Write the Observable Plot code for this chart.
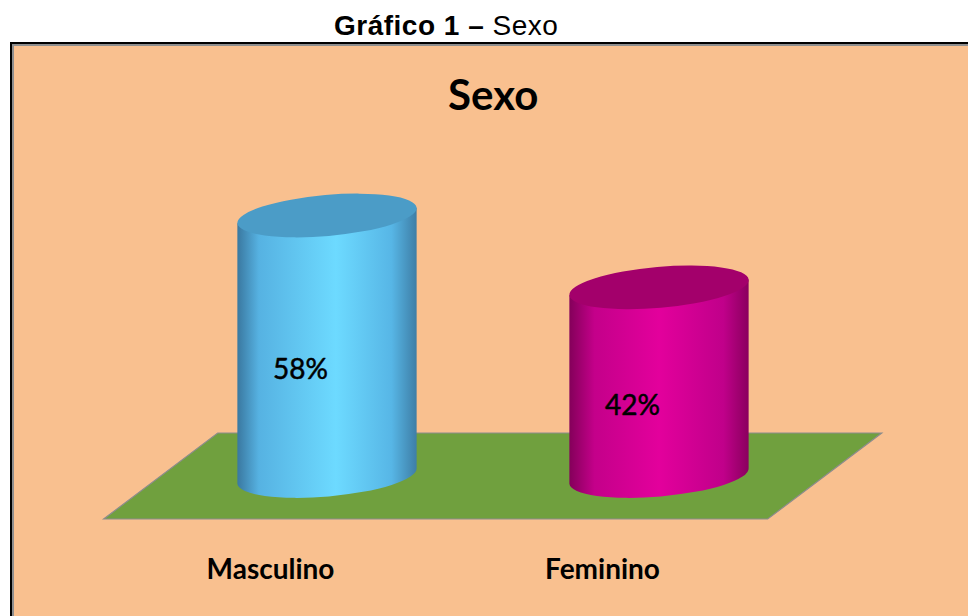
<!DOCTYPE html>
<html>
<head>
<meta charset="utf-8">
<script src="https://cdn.jsdelivr.net/npm/d3@7"></script>
<script src="https://cdn.jsdelivr.net/npm/@observablehq/plot@0.6"></script>
<style>
  html, body { margin: 0; padding: 0; background: #ffffff; }
  body { width: 968px; height: 616px; overflow: hidden; position: relative; }
  #caption { position: absolute; left: 334px; top: 12px; font-family: "Liberation Sans", Arial, sans-serif; font-size: 28px; line-height: 28px; letter-spacing: 0.5px; white-space: nowrap; color: #000; }
  #box { position: absolute; left: 10px; top: 42px; width: 1000px; height: 620px; border-top: 2px solid #000; border-left: 2px solid #000; }
  #inner { width: 100%; height: 100%; border-top: 2px solid #8e8e8e; border-left: 2px solid #8e8e8e; background: #F9C08F; }
  #inner svg { display: block; }
</style>
</head>
<body>
<div id="caption"><b>Gráfico 1 –</b> Sexo</div>
<div id="box"><div id="inner"></div></div>
<script>
// ---- data ----
const categories = ["Masculino", "Feminino"];
const values = [58, 42];
const valueLabels = ["58%", "42%"];
const chartTitle = "Sexo";

// ---- styles ----
const sideStops = [
  [[0, "#3a78a0"], [0.12, "#56b2e2"], [0.55, "#6ddaff"], [0.86, "#57b6e6"], [1, "#3e7ea6"]],
  [[0, "#84005a"], [0.14, "#c4008a"], [0.5, "#e3009c"], [0.86, "#c0008a"], [1, "#8a005e"]]
];
const topFills = ["#4b9cc7", "#a3006b"];

const data = categories.map((c, i) => ({category: c, value: values[i], label: valueLabels[i]}));

const W = 954, H = 570;
const TILT = -5;          // degrees
const RX_FRAC = 0.271;    // cylinder radius as fraction of band
const RY = 20.5;
const FLOOR_DEPTH = 43, FLOOR_SKEW = 57;

function defsMark() {
  const defs = d3.create("svg:defs");
  sideStops.forEach((stops, i) => {
    const g = defs.append("linearGradient").attr("id", "side-" + i)
      .attr("x1", "0").attr("x2", "1").attr("y1", "0").attr("y2", "0");
    stops.forEach(([o, c]) => g.append("stop").attr("offset", o).attr("stop-color", c));
  });
  return defs.node();
}

function floorMark(index, scales) {
  const [x0, x1] = scales.x.range();
  const yc = scales.y(0);
  const p = d3.path();
  p.moveTo(x0 + FLOOR_SKEW, yc - FLOOR_DEPTH);
  p.lineTo(x1 + FLOOR_SKEW, yc - FLOOR_DEPTH);
  p.lineTo(x1 - FLOOR_SKEW, yc + FLOOR_DEPTH);
  p.lineTo(x0 - FLOOR_SKEW, yc + FLOOR_DEPTH);
  p.closePath();
  const g = d3.create("svg:g");
  g.append("path").attr("d", p.toString()).attr("fill", "#70a03e").attr("stroke", "#8c8c8c").attr("stroke-width", 1.2);
  return g.node();
}

function cylindersMark(index, scales) {
  const x = scales.x, y = scales.y;
  const bw = x.bandwidth ? x.bandwidth() : 332;
  const rx = bw * RX_FRAC;
  const t = TILT * Math.PI / 180;
  const dxr = rx * Math.cos(t), dyr = rx * Math.sin(t);
  const g = d3.create("svg:g");
  data.forEach((d, i) => {
    const cx = x(d.category) + bw / 2;
    const yb = y(0), yt = y(d.value);
    const Lt = [cx - dxr, yt - dyr], Rt = [cx + dxr, yt + dyr];
    const Lb = [cx - dxr, yb - dyr], Rb = [cx + dxr, yb + dyr];
    const path = `M${Lt}L${Lb}A${rx},${RY} ${TILT} 0 0 ${Rb}L${Rt}Z`;
    g.append("path").attr("d", path).attr("fill", `url(#side-${i})`);
    g.append("ellipse").attr("cx", cx).attr("cy", yt).attr("rx", rx).attr("ry", RY)
      .attr("transform", `rotate(${TILT} ${cx} ${yt})`).attr("fill", topFills[i]);
  });
  return g.node();
}

const plot = Plot.plot({
  width: W,
  height: H,
  marginLeft: 146.7,
  marginRight: 143.3,
  marginTop: 0,
  marginBottom: 0,
  style: {background: "transparent", overflow: "visible"},
  x: {type: "band", domain: categories, range: [146.7, 810.7], padding: 0, axis: null},
  y: {domain: [0, d3.max(values)], range: [430, 169.5], axis: null},
  marks: [
    defsMark,
    floorMark,
    cylindersMark,
    Plot.text(data, {x: "category", y: d => d.value / 2, text: "label", dx: -27, dy: 24,
      fontSize: 28, fontFamily: "Lato, 'Open Sans', sans-serif", fill: "#000",
      stroke: "#000", strokeWidth: 0.5}),
    Plot.text(data, {x: "category", y: () => 0, text: "category", dx: -57, dy: 93.5,
      fontSize: 28, fontWeight: "bold", fontFamily: "Lato, 'Open Sans', sans-serif", fill: "#000"}),
    Plot.text([chartTitle], {frameAnchor: "top", lineAnchor: "top", dy: 34, text: d => d,
      fontSize: 42, fontWeight: "bold", fontFamily: "Lato, 'Open Sans', sans-serif", fill: "#000"})
  ]
});
document.getElementById("inner").appendChild(plot);
</script>
</body>
</html>
